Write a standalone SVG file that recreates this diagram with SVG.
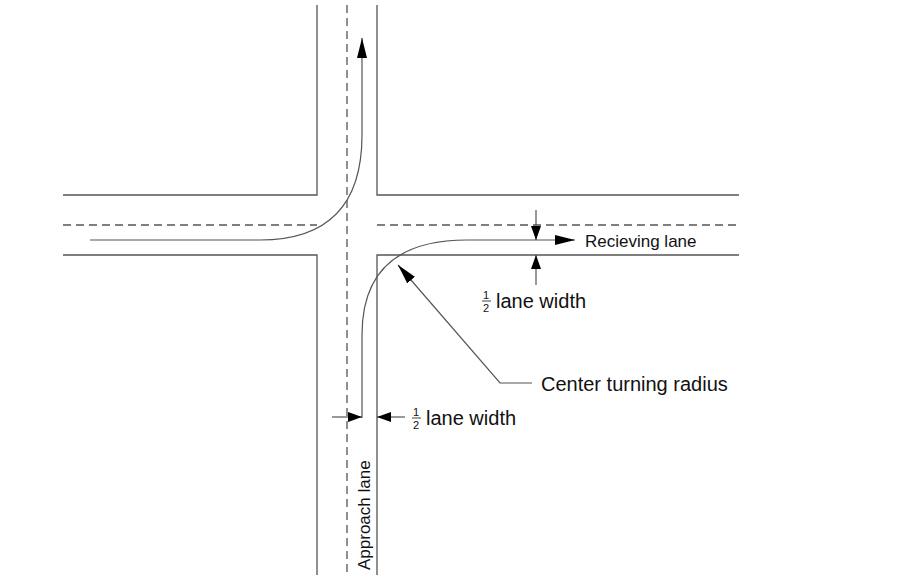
<svg xmlns="http://www.w3.org/2000/svg" width="915" height="584" viewBox="0 0 915 584">
<style>
.r{stroke:#555;stroke-width:1.3;fill:none}
.d{stroke:#555;stroke-width:1.3;fill:none;stroke-dasharray:8,5}
.p{stroke:#555;stroke-width:1.2;fill:none}
.t{font-family:"Liberation Sans",Arial,sans-serif;font-size:20px;fill:#111}
.m{font-family:"Liberation Sans",Arial,sans-serif;font-size:17px;fill:#111}
.s{font-family:"Liberation Sans",Arial,sans-serif;font-size:11px;fill:#111}
</style>
<defs>
<marker id="a" viewBox="0 0 14 10" refX="14" refY="5" markerWidth="14" markerHeight="10" markerUnits="userSpaceOnUse" orient="auto"><path d="M0,0L14,5L0,10Z" fill="#000"/></marker>
<marker id="b" viewBox="0 0 20 10" refX="20" refY="5" markerWidth="20" markerHeight="10" markerUnits="userSpaceOnUse" orient="auto"><path d="M0,0L20,5L0,10Z" fill="#000"/></marker>
</defs>
<rect width="915" height="584" fill="#fff"/>
<g id="roads">
<path class="r" d="M317,5V195H63M377,5V195H739M63,255H317V575M739,255H377V575"/>
<path class="d" d="M347,5V575M63,225H317M377,225H739"/>
</g>
<g id="connectors">
<path class="p" d="M90,240H260Q362,240 362,135V38" marker-end="url(#b)"/>
<path class="p" d="M362,418V335Q362,240 467,240H575" marker-end="url(#b)"/>
<path class="p" d="M536,210V240" marker-end="url(#a)"/>
<path class="p" d="M536,285V255" marker-end="url(#a)"/>
<path class="p" d="M332,417H362" marker-end="url(#a)"/>
<path class="p" d="M405,417H377" marker-end="url(#a)"/>
<path class="p" d="M532,383H500L398,265" marker-end="url(#b)"/>
</g>
<g id="labels">
<text class="m" x="585" y="247">Recieving lane</text>
<text class="s" x="483" y="299">1</text><line x1="482" y1="301" x2="491" y2="301" stroke="#111" stroke-width="0.8"/><text class="s" x="483" y="312">2</text>
<text class="t" x="496" y="308">lane width</text>
<text class="s" x="413" y="416">1</text><line x1="412" y1="418" x2="421" y2="418" stroke="#111" stroke-width="0.8"/><text class="s" x="413" y="429">2</text>
<text class="t" x="426" y="425">lane width</text>
<text class="t" x="541" y="391">Center turning radius</text>
<text class="m" transform="translate(370,570) rotate(-90)">Approach lane</text>
</g>
</svg>
